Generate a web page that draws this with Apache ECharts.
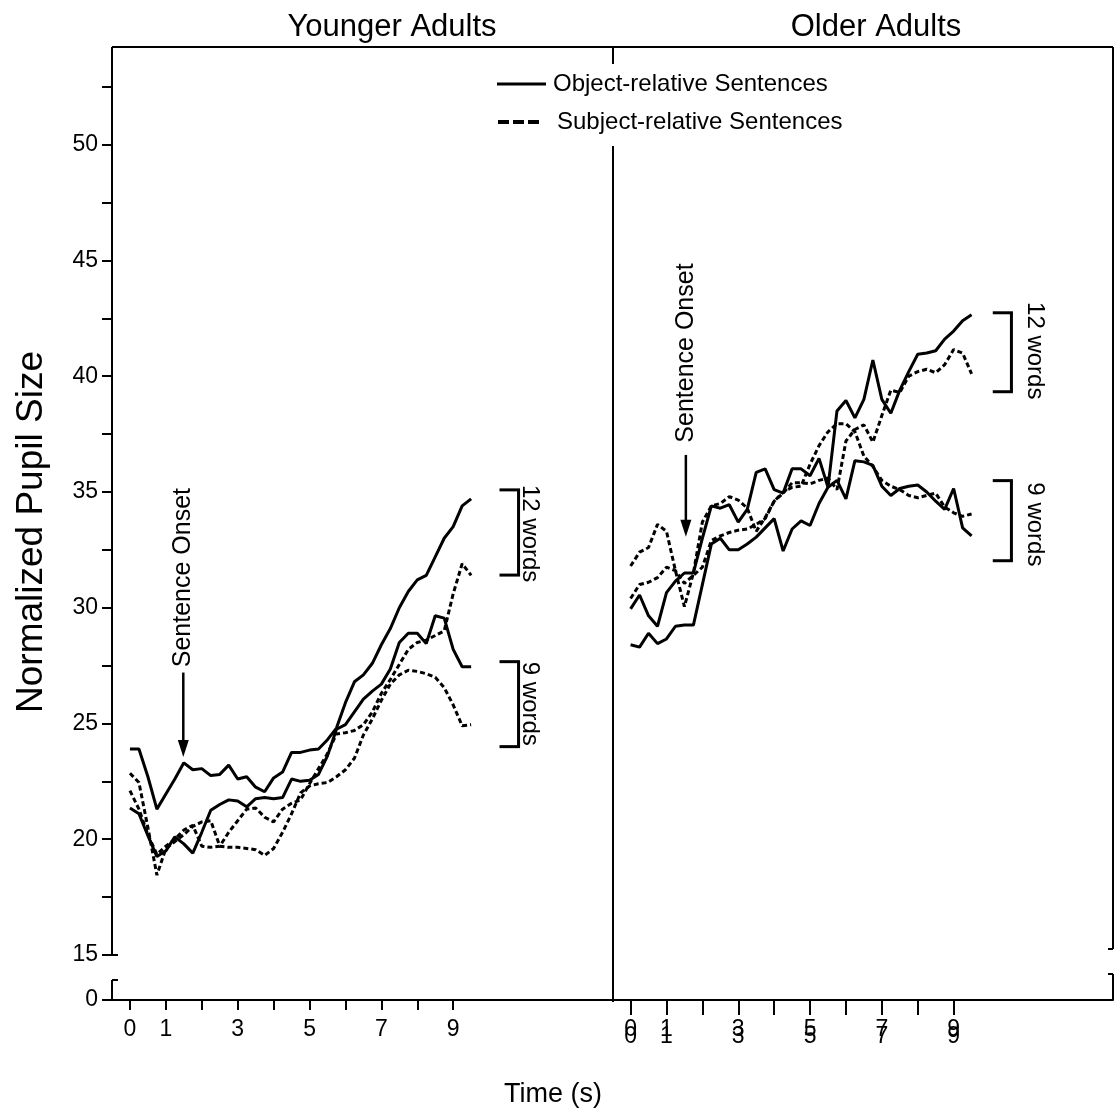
<!DOCTYPE html>
<html>
<head>
<meta charset="utf-8">
<script src="https://cdn.jsdelivr.net/npm/echarts@6/dist/echarts.min.js"></script>
<style>html,body{margin:0;padding:0;background:#fff}#c{width:1114px;height:1113px}</style>
</head>
<body>
<div id="c"></div>
<script>
// ---------------- data ----------------
const times = [0,0.25,0.5,0.75,1,1.25,1.5,1.75,2,2.25,2.5,2.75,3,3.25,3.5,3.75,4,4.25,4.5,4.75,5,5.25,5.5,5.75,6,6.25,6.5,6.75,7,7.25,7.5,7.75,8,8.25,8.5,8.75,9,9.25,9.5];

// Younger adults
const youngObj12  = [23.9,23.9,22.7,21.3,21.95,22.6,23.3,23.0,23.05,22.75,22.8,23.2,22.6,22.7,22.25,22.05,22.65,22.9,23.75,23.75,23.85,23.9,24.3,24.8,25.9,26.8,27.1,27.6,28.4,29.1,30.0,30.7,31.2,31.4,32.2,33.0,33.5,34.4,34.7];
const youngObj9   = [21.35,21.1,20.15,19.25,19.5,20.1,19.8,19.4,20.3,21.25,21.5,21.7,21.65,21.4,21.75,21.8,21.75,21.8,22.6,22.5,22.55,22.8,23.6,24.75,24.95,25.5,26.05,26.4,26.7,27.35,28.5,28.9,28.9,28.45,29.65,29.55,28.2,27.45,27.45];
const youngSubj12 = [22.1,21.3,20.2,19.35,19.7,20.0,20.4,20.6,19.7,19.65,19.7,20.3,20.8,21.3,21.35,20.95,20.75,21.3,21.55,21.7,22.4,23.05,23.7,24.55,24.6,24.7,24.95,25.5,26.3,26.9,27.55,28.2,28.5,28.6,28.8,29.0,30.6,31.9,31.4];
const youngSubj9  = [22.85,22.45,20.5,18.45,19.6,19.9,20.2,20.55,20.75,20.8,19.7,19.65,19.65,19.6,19.55,19.3,19.6,20.3,21.1,22.0,22.3,22.4,22.45,22.7,23.0,23.5,24.5,25.2,26.0,26.7,27.1,27.3,27.25,27.15,27.0,26.55,25.8,24.9,24.95];

// Older adults
const oldObj12  = [29.95,30.55,29.65,29.2,30.65,31.15,31.5,31.5,33.0,34.4,34.3,34.45,33.7,34.25,35.85,36.0,35.1,34.95,36.0,36.0,35.7,36.45,35.2,38.5,38.95,38.2,39.0,40.7,39.0,38.4,39.4,40.2,40.95,41.0,41.1,41.6,41.95,42.4,42.65];
const oldObj9   = [28.4,28.3,28.9,28.45,28.65,29.2,29.25,29.25,31.0,32.75,33.0,32.5,32.5,32.75,33.05,33.45,33.85,32.45,33.4,33.75,33.55,34.5,35.2,35.5,34.7,36.35,36.3,36.15,35.25,34.85,35.15,35.25,35.3,35.0,34.6,34.25,35.15,33.45,33.1];
const oldSubj12 = [31.8,32.4,32.6,33.6,33.3,31.6,30.05,31.5,33.7,34.4,34.5,34.8,34.65,34.3,33.3,33.9,34.6,34.95,35.4,35.4,35.35,35.5,35.6,35.1,37.2,37.7,37.9,37.15,38.3,39.4,39.3,40.0,40.2,40.3,40.15,40.5,41.15,41.0,40.1];
const oldSubj9  = [30.4,31.0,31.1,31.3,31.75,31.6,31.05,31.4,31.75,32.9,33.1,33.25,33.35,33.4,33.6,33.85,34.6,35.0,35.2,35.25,36.2,37.0,37.6,37.95,37.95,37.6,36.55,36.1,35.5,35.25,35.1,34.85,34.75,34.85,34.95,34.35,34.1,33.95,34.05];

// axis ticks / labels
const yTickValues  = [15,17.5,20,22.5,25,27.5,30,32.5,35,37.5,40,42.5,45,47.5,50,52.5];
const yLabelValues = [15,20,25,30,35,40,45,50];
const yBreakZero   = 13.06;        // position of the "0" label below the axis break
const xTickValues  = [0,1,2,3,4,5,6,7,8,9];
const xLabelValues = [0,1,3,5,7,9];

// texts
const panelTitles = ['Younger Adults', 'Older Adults'];
const legendNames = ['Object-relative Sentences', 'Subject-relative Sentences'];
const yAxisName = 'Normalized Pupil Size';
const xAxisName = 'Time (s)';
const onsetLabel = 'Sentence Onset';
const bracketLabels = ['12 words', '9 words'];

// annotation anchors (data coordinates) [left panel, right panel]
const onsetTime      = [1.485, 1.54];
const onsetArrowTop  = [27.2, 36.6];
const onsetArrowTip  = [23.55, 33.07];
const onsetTextMid   = [31.3, 41.0];
const bracketX       = [10.82, 10.61];
const bracketCapX    = [10.29, 10.09];
const bracketTextX   = [11.14, 11.26];
const bracket12      = [[35.09, 31.41], [42.74, 39.33]];
const bracket9       = [[27.67, 24.0], [35.49, 32.03]];
const bracket12Text  = [33.2, 41.1];
const bracket9Text   = [25.85, 33.6];

// ---------------- chart ----------------
const FONT = "'Liberation Sans', Arial, Helvetica, sans-serif";
const chart = echarts.init(document.getElementById('c'));

function pairs(vals){ return vals.map((v, i) => [times[i], v]); }
function lineSeries(name, vals, panel, dashed){
  return {
    type: 'line', name: name, data: pairs(vals),
    xAxisIndex: panel === 0 ? 0 : 1, yAxisIndex: panel,
    symbol: 'none', showSymbol: false, silent: true, animation: false,
    lineStyle: { color: '#000', width: 3, type: dashed ? [5, 3] : 'solid', cap: 'butt' },
    z: 3
  };
}

const yMin = 13.056, yMax = 54.22;
const labelStyle = { fontSize: 23, color: '#000', fontFamily: FONT };

const option = {
  animation: false,
  backgroundColor: '#fff',
  grid: [
    { left: 112, top: 47, width: 501, height: 953 },
    { left: 613, top: 47, width: 500, height: 953 }
  ],
  xAxis: [
    { type: 'value', gridIndex: 0, min: -0.5, max: 13.45,
      axisLine: { show: true, onZero: false, lineStyle: { color: '#000', width: 2 } },
      axisTick: { show: true, length: 10, lineStyle: { color: '#000', width: 2 }, customValues: xTickValues },
      axisLabel: Object.assign({ margin: 18, customValues: xLabelValues }, labelStyle),
      splitLine: { show: false } },
    { type: 'value', gridIndex: 1, min: -0.49, max: 13.44,
      axisLine: { show: true, onZero: false, lineStyle: { color: '#000', width: 2 } },
      axisTick: { show: true, length: 15, lineStyle: { color: '#000', width: 2 }, customValues: xTickValues },
      axisLabel: Object.assign({ margin: 18, customValues: xLabelValues }, labelStyle),
      splitLine: { show: false } },
    { type: 'value', gridIndex: 1, min: -0.49, max: 13.44, position: 'bottom',
      axisLine: { show: false, onZero: false }, axisTick: { show: false },
      axisLabel: Object.assign({ margin: 25, customValues: xLabelValues }, labelStyle),
      splitLine: { show: false } }
  ],
  yAxis: [
    { type: 'value', gridIndex: 0, min: yMin, max: yMax,
      axisLine: { show: false, onZero: false },
      axisTick: { show: true, length: 10, lineStyle: { color: '#000', width: 2 }, customValues: [yBreakZero].concat(yTickValues) },
      axisLabel: Object.assign({ margin: 14, customValues: [yBreakZero].concat(yLabelValues),
        formatter: function(v){ return v < 14 ? '0' : String(v); } }, labelStyle),
      splitLine: { show: false } },
    { type: 'value', gridIndex: 1, min: yMin, max: yMax, show: false,
      axisLine: { onZero: false }, splitLine: { show: false } }
  ],
  series: [
    lineSeries(legendNames[0] + ' 12 (young)', youngObj12, 0, false),
    lineSeries(legendNames[0] + ' 9 (young)', youngObj9, 0, false),
    lineSeries(legendNames[1] + ' 12 (young)', youngSubj12, 0, true),
    lineSeries(legendNames[1] + ' 9 (young)', youngSubj9, 0, true),
    lineSeries(legendNames[0] + ' 12 (old)', oldObj12, 1, false),
    lineSeries(legendNames[0] + ' 9 (old)', oldObj9, 1, false),
    lineSeries(legendNames[1] + ' 12 (old)', oldSubj12, 1, true),
    lineSeries(legendNames[1] + ' 9 (old)', oldSubj9, 1, true)
  ]
};
chart.setOption(option);

// ---------------- decorations / annotations ----------------
function P(panel, x, y){
  return chart.convertToPixel(panel === 0 ? { xAxisIndex: 0, yAxisIndex: 0 } : { xAxisIndex: 1, yAxisIndex: 1 }, [x, y]);
}
function seg(x1, y1, x2, y2, w, z){
  return { type: 'line', z: z || 5, silent: true, shape: { x1: x1, y1: y1, x2: x2, y2: y2 },
           style: { stroke: '#000', lineWidth: w || 2 } };
}
function txt(text, x, y, size, rot, align, z){
  return { type: 'text', x: x, y: y, rotation: rot || 0, z: z || 6, silent: true,
           style: { text: text, fill: '#000', fontSize: size, fontFamily: FONT,
                    align: align || 'center', verticalAlign: 'middle' } };
}

const g = [];
const gL = 112, gM = 613, gR = 1113, gT = 47, gB = 1000;
// frame
g.push(seg(gL, gT, gR, gT, 2));
g.push(seg(gM, gT, gM, gB + 2, 2));
// left axis with break
const yb15 = P(0, 0, 15)[1];
const ybLow = P(0, 0, 13.92)[1];
g.push(seg(gL, gT, gL, yb15, 2));
g.push(seg(gL, yb15, gL + 6, yb15, 2));
g.push(seg(gL, ybLow, gL, gB, 2));
g.push(seg(gL, ybLow, gL + 6, ybLow, 2));
// right border with break
const rbHi = P(1, 0, 15.26)[1];
const rbLo = P(1, 0, 14.18)[1];
g.push(seg(gR, gT, gR, rbHi, 2));
g.push(seg(gR - 5, rbHi, gR, rbHi, 2));
g.push(seg(gR, rbLo, gR, gB, 2));
g.push(seg(gR - 5, rbLo, gR, rbLo, 2));

// titles and axis names
g.push(txt(panelTitles[0], 392, 27, 31));
g.push(txt(panelTitles[1], 876, 27, 31));
g.push(txt(yAxisName, 32, 532, 37, Math.PI / 2));
g.push(txt(xAxisName, 553, 1095, 27));

// legend
g.push({ type: 'rect', z: 10, silent: true, shape: { x: 490, y: 64, width: 365, height: 82 }, style: { fill: '#fff' } });
g.push(seg(497, 84, 546, 84, 3, 11));
g.push(txt(legendNames[0], 553, 84, 24, 0, 'left', 11));
g.push({ type: 'line', z: 11, silent: true, shape: { x1: 498, y1: 122, x2: 539, y2: 122 },
         style: { stroke: '#000', lineWidth: 4, lineDash: [11, 4] } });
g.push(txt(legendNames[1], 557, 122, 24, 0, 'left', 11));

// sentence onset arrows
for (let p = 0; p < 2; p++) {
  const top = P(p, onsetTime[p], onsetArrowTop[p]);
  const tip = P(p, onsetTime[p], onsetArrowTip[p]);
  g.push(seg(top[0], top[1], tip[0], tip[1] - 10, 2.5));
  g.push({ type: 'polygon', z: 5, silent: true,
           shape: { points: [[tip[0] - 5.5, tip[1] - 17], [tip[0] + 5.5, tip[1] - 17], [tip[0], tip[1]]] },
           style: { fill: '#000' } });
  const tm = P(p, onsetTime[p], onsetTextMid[p]);
  g.push(txt(onsetLabel, tm[0], tm[1], 25, Math.PI / 2));
}

// word-count brackets
for (let p = 0; p < 2; p++) {
  [[bracket12[p], bracket12Text[p], bracketLabels[0]], [bracket9[p], bracket9Text[p], bracketLabels[1]]].forEach(function(b){
    const a = P(p, bracketX[p], b[0][0]);
    const c = P(p, bracketX[p], b[0][1]);
    const capX = P(p, bracketCapX[p], b[0][0])[0];
    g.push(seg(a[0], a[1], c[0], c[1], 3));
    g.push(seg(capX, a[1], a[0] + 1.5, a[1], 3));
    g.push(seg(capX, c[1], c[0] + 1.5, c[1], 3));
    const t = P(p, bracketTextX[p], b[1]);
    g.push(txt(b[2], t[0], t[1], 24, -Math.PI / 2));
  });
}

chart.setOption({ graphic: { elements: g } });
</script>
</body>
</html>
